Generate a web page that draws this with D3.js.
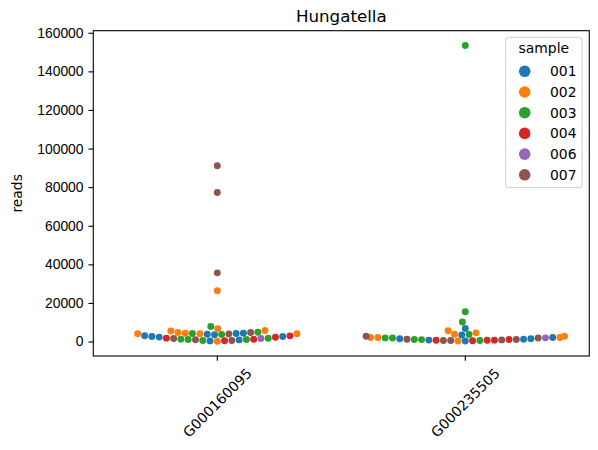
<!DOCTYPE html>
<html>
<head>
<meta charset="utf-8">
<script src="https://cdn.jsdelivr.net/npm/d3@7"></script>
<style>
  body { margin: 0; background: #fff; }
  svg { font-family: "DejaVu Sans", sans-serif; }
</style>
</head>
<body>
<svg id="chart" width="598" height="450"></svg>
<script>
// genes on the x axis, samples as hue
const genes = ["G000160095", "G000235505"];
const samples = ["001", "002", "003", "004", "006", "007"];
const palette = ["#1f77b4", "#ff7f0e", "#2ca02c", "#d62728", "#9467bd", "#8c564b"];
const yTicks = [0, 20000, 40000, 60000, 80000, 100000, 120000, 140000, 160000];

// reads per sample (same order as samples)
const readsG000160095 = [
  [340, 860, 2600, 2290, 2640, 2980, 3500, 3750, 4150, 4330],
  [170, 3990, 4010, 4000, 4330, 4700, 5700, 5500, 6700, 26380],
  [530, 1030, 1060, 1240, 1750, 3650, 4150, 4860, 7800],
  [360, 1200, 1770, 2250, 2950],
  [1560],
  [510, 880, 1580, 3950, 4660, 35595, 77244, 91090],
];
const readsG000235505 = [
  [300, 740, 1480, 1230, 1500, 2090, 3420, 6800],
  [330, 2080, 2100, 2110, 2720, 3820, 4500, 5550],
  [520, 1000, 1040, 1800, 1900, 3600, 10100, 15450, 153410],
  [360, 700, 680, 720, 1020],
  [1910],
  [500, 540, 850, 1200, 1060, 1830, 2700],
];
const readsByGene = [readsG000160095, readsG000235505];

const svg = d3.select("#chart");
const padding = { left: 93.3, right: 8.7, top: 30.7, bottom: 94 };
const width = 598, height = 450;
const r = 2.5 * 100 / 72;

const points = [];
genes.forEach((g, gi) => {
  readsByGene[gi].forEach((vals, si) => {
    vals.forEach((v) => points.push({ gene: g, sample: samples[si], color: palette[si], v }));
  });
});

const [lo, hi] = d3.extent(points, (d) => d.v);
const pad = (hi - lo) * 0.05;
const x = d3
  .scaleBand()
  .domain(genes)
  .range([padding.left, width - padding.right]);
const y = d3
  .scaleLinear()
  .domain([lo - pad, hi + pad])
  .range([height - padding.bottom, padding.top]);

// seaborn-style beeswarm, in pixels
function swarm(pts, center) {
  pts.forEach((p) => (p.u = -y(p.v)));
  const order = pts.slice().sort((a, b) => a.u - b.u);
  const placed = [];
  order.forEach((p, k) => {
    if (k === 0) {
      p.px = center;
      placed.push(p);
      return;
    }
    const neighbors = [];
    for (let j = placed.length - 1; j >= 0; j--) {
      if (p.u - placed[j].u < 2 * r) neighbors.push(placed[j]);
      else break;
    }
    const cands = [center];
    let leftFirst = true;
    neighbors.forEach((n) => {
      const dy = p.u - n.u;
      const dx = Math.sqrt(Math.max(4 * r * r - dy * dy, 0)) * 1.05;
      if (leftFirst) cands.push(n.px - dx, n.px + dx);
      else cands.push(n.px + dx, n.px - dx);
      leftFirst = !leftFirst;
    });
    const sorted = cands
      .map((c, i) => ({ c, i, o: Math.abs(c - center) }))
      .sort((a, b) => a.o - b.o || a.i - b.i);
    p.px = center;
    for (const s of sorted) {
      const ok = neighbors.every(
        (n) => (n.px - s.c) ** 2 + (n.u - p.u) ** 2 >= 4 * r * r
      );
      if (ok) {
        p.px = s.c;
        break;
      }
    }
    placed.push(p);
  });
  // gutters
  const half = x.bandwidth() * 0.4;
  pts.forEach((p) => {
    p.px = Math.max(center - half, Math.min(center + half, p.px));
  });
}

genes.forEach((g) => {
  swarm(points.filter((d) => d.gene === g), x(g) + x.bandwidth() / 2);
});

const tick = 3.5 * 100 / 72;

const yAxis = (g) =>
  g
    .attr("transform", `translate(${padding.left},0)`)
    .call(d3.axisLeft(y).tickValues(yTicks).tickFormat(d3.format("d")).tickSize(tick).tickPadding(tick))
    .call((g) => g.select(".domain").remove())
    .call((g) => g.selectAll("line").attr("stroke", "#000").attr("stroke-width", 1.1))
    .call((g) => g.selectAll("text").attr("fill", "#000").style("font-size", "13.9px"));

const xAxis = (g) =>
  g
    .attr("transform", `translate(0,${height - padding.bottom})`)
    .call(d3.axisBottom(x).tickSize(tick).tickFormat(""))
    .call((g) => g.select(".domain").remove())
    .call((g) => g.selectAll("line").attr("stroke", "#000").attr("stroke-width", 1.1));

svg.append("g").attr("class", "y-axis").call(yAxis);
svg.append("g").attr("class", "x-axis").call(xAxis);

// rotated gene labels
svg
  .append("g")
  .selectAll("text")
  .data(genes)
  .join("text")
  .attr("transform", (d) => `translate(${x(d) + x.bandwidth() / 2},${height - padding.bottom + 2 * tick + 37})rotate(-45)`)
  .attr("text-anchor", "middle")
  .attr("dominant-baseline", "central")
  .style("font-size", "13.9px")
  .text((d) => d);

svg
  .append("g")
  .selectAll("circle")
  .data(points)
  .join("circle")
  .attr("cx", (d) => d.px)
  .attr("cy", (d) => y(d.v))
  .attr("r", r)
  .attr("fill", (d) => d.color);

svg
  .append("rect")
  .attr("x", padding.left)
  .attr("y", padding.top)
  .attr("width", width - padding.left - padding.right)
  .attr("height", height - padding.top - padding.bottom)
  .attr("fill", "none")
  .attr("stroke", "#000")
  .attr("stroke-width", 1.1);

svg
  .append("text")
  .attr("x", (padding.left + width - padding.right) / 2)
  .attr("y", padding.top - 8.3)
  .attr("text-anchor", "middle")
  .style("font-size", "16.7px")
  .text("Hungatella");

svg
  .append("text")
  .attr("transform", `translate(22,${(padding.top + height - padding.bottom) / 2})rotate(-90)`)
  .attr("text-anchor", "middle")
  .style("font-size", "13.9px")
  .text("reads");

// legend
const legend = svg.append("g").attr("transform", "translate(505.7,37.3)");
legend
  .append("rect")
  .attr("width", 76.3)
  .attr("height", 150.4)
  .attr("rx", 2.8)
  .attr("fill", "#fff")
  .attr("fill-opacity", 0.8)
  .attr("stroke", "#cccccc");
legend
  .append("text")
  .attr("x", 38.1)
  .attr("y", 16)
  .attr("text-anchor", "middle")
  .style("font-size", "13.9px")
  .text("sample");
const items = legend
  .selectAll("g.item")
  .data(samples)
  .join("g")
  .attr("class", "item")
  .attr("transform", (d, i) => `translate(0,${34 + i * 20.7})`);
items
  .append("circle")
  .attr("cx", 19)
  .attr("r", 5.8)
  .attr("fill", (d, i) => palette[i]);
items
  .append("text")
  .attr("x", 44.3)
  .attr("dominant-baseline", "central")
  .style("font-size", "13.9px")
  .text((d) => d);
</script>
</body>
</html>
